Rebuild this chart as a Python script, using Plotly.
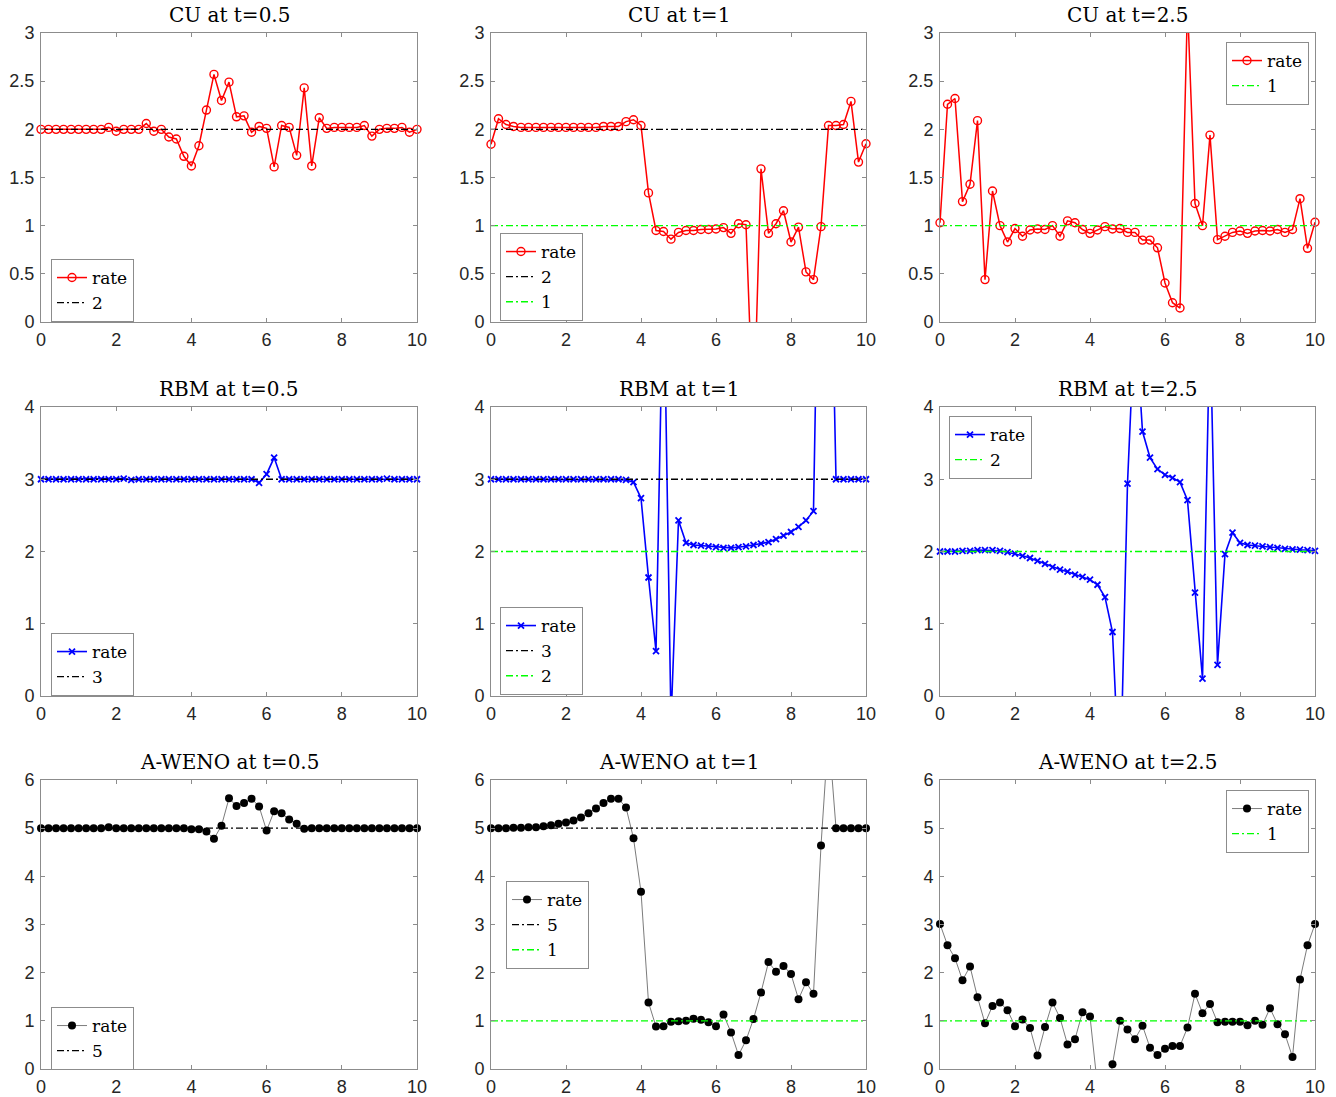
import plotly.graph_objects as go

# ---------------- data ----------------
X = [0.0, 0.2, 0.4, 0.6, 0.8, 1.0, 1.2, 1.4, 1.6, 1.8,
     2.0, 2.2, 2.4, 2.6, 2.8, 3.0, 3.2, 3.4, 3.6, 3.8,
     4.0, 4.2, 4.4, 4.6, 4.8, 5.0, 5.2, 5.4, 5.6, 5.8,
     6.0, 6.2, 6.4, 6.6, 6.8, 7.0, 7.2, 7.4, 7.6, 7.8,
     8.0, 8.2, 8.4, 8.6, 8.8, 9.0, 9.2, 9.4, 9.6, 9.8,
     10.0]

CU_05 = [2.00, 2.00, 2.00, 2.00, 2.00, 2.00, 2.00, 2.00, 2.00, 2.02,
         1.98, 2.00, 2.00, 2.00, 2.06, 1.98, 2.00, 1.92, 1.90, 1.72,
         1.62, 1.83, 2.20, 2.57, 2.30, 2.49, 2.13, 2.14, 1.97, 2.03,
         2.01, 1.61, 2.04, 2.02, 1.73, 2.43, 1.62, 2.12, 2.01, 2.02,
         2.02, 2.02, 2.02, 2.04, 1.93, 2.00, 2.01, 2.01, 2.02, 1.97,
         2.00]
CU_1 = [1.845, 2.11, 2.05, 2.03, 2.02, 2.02, 2.02, 2.02, 2.02, 2.02,
        2.02, 2.02, 2.02, 2.02, 2.02, 2.03, 2.03, 2.03, 2.08, 2.10,
        2.04, 1.34, 0.95, 0.94, 0.86, 0.93, 0.95, 0.95, 0.96, 0.96,
        0.965, 0.98, 0.92, 1.02, 1.01, -1.1, 1.59, 0.92, 1.02, 1.155,
        0.83, 0.985, 0.52, 0.44, 0.99, 2.04, 2.04, 2.05, 2.29, 1.66,
        1.85]
CU_25 = [1.03, 2.26, 2.32, 1.25, 1.43, 2.09, 0.44, 1.36, 1.00, 0.83,
         0.97, 0.89, 0.955, 0.965, 0.96, 1.00, 0.89, 1.05, 1.03, 0.96,
         0.92, 0.955, 0.99, 0.965, 0.97, 0.93, 0.93, 0.85, 0.85, 0.77,
         0.405, 0.20, 0.145, 3.3, 1.23, 1.00, 1.94, 0.855, 0.89, 0.93,
         0.945, 0.92, 0.945, 0.95, 0.945, 0.96, 0.93, 0.96, 1.28, 0.765,
         1.035]

RBM_05 = [3.00, 3.00, 3.00, 3.00, 3.00, 3.00, 3.00, 3.00, 3.00, 3.00,
          3.00, 3.01, 2.99, 3.00, 3.00, 3.00, 3.00, 3.00, 3.00, 3.00,
          3.00, 3.00, 3.00, 3.00, 3.00, 3.00, 3.00, 3.00, 3.00, 2.95,
          3.07, 3.30, 3.00, 3.00, 3.00, 3.00, 3.00, 3.00, 3.00, 3.00,
          3.00, 3.00, 3.00, 3.00, 3.00, 3.00, 3.01, 3.00, 3.00, 3.00,
          3.00]
RBM_1 = [3.00, 3.00, 3.00, 3.00, 3.00, 3.00, 3.00, 3.00, 3.00, 3.00,
         3.00, 3.00, 3.00, 3.00, 3.00, 3.00, 3.00, 3.00, 2.99, 2.96,
         2.74, 1.64, 0.62, 6.0, -0.35, 2.43, 2.12, 2.09, 2.08, 2.07,
         2.06, 2.05, 2.05, 2.06, 2.07, 2.09, 2.11, 2.13, 2.17, 2.22,
         2.27, 2.34, 2.43, 2.56, 8.5, 8.0, 3.00, 3.00, 3.00, 3.00,
         3.00]
RBM_25 = [2.00, 2.00, 2.00, 2.01, 2.01, 2.02, 2.02, 2.02, 2.01, 1.99,
          1.97, 1.94, 1.91, 1.87, 1.83, 1.785, 1.75, 1.72, 1.68, 1.65,
          1.61, 1.54, 1.37, 0.886, -1.4, 2.94, 5.3, 3.66, 3.30, 3.14,
          3.06, 3.02, 2.96, 2.71, 1.43, 0.24, 5.2, 0.43, 1.965, 2.26,
          2.12, 2.09, 2.08, 2.07, 2.06, 2.05, 2.035, 2.03, 2.025, 2.02,
          2.01]

AW_05 = [5.00, 5.00, 5.00, 5.00, 5.00, 5.00, 5.00, 5.00, 5.00, 5.02,
         5.00, 5.00, 5.00, 5.00, 5.00, 5.00, 5.00, 5.00, 5.00, 5.00,
         4.98, 4.98, 4.93, 4.78, 5.05, 5.62, 5.46, 5.52, 5.61, 5.45,
         4.95, 5.35, 5.31, 5.18, 5.09, 4.99, 5.00, 5.00, 5.00, 5.00,
         5.00, 5.00, 5.00, 5.00, 5.00, 5.00, 5.00, 5.00, 5.00, 5.00,
         5.00]
AW_1 = [5.00, 5.00, 5.00, 5.01, 5.01, 5.02, 5.02, 5.04, 5.06, 5.09,
        5.12, 5.16, 5.22, 5.31, 5.41, 5.52, 5.61, 5.61, 5.43, 4.79,
        3.68, 1.38, 0.88, 0.89, 0.98, 0.99, 1.00, 1.045, 1.02, 0.97,
        0.89, 1.13, 0.76, 0.29, 0.595, 1.04, 1.59, 2.22, 2.02, 2.14,
        1.97, 1.45, 1.80, 1.56, 4.64, 7.0, 5.00, 5.00, 5.00, 5.00,
        5.00]
AW_25 = [3.01, 2.57, 2.30, 1.84, 2.13, 1.49, 0.95, 1.31, 1.38, 1.22,
         0.89, 1.03, 0.85, 0.28, 0.87, 1.38, 1.06, 0.51, 0.62, 1.18,
         1.09, -0.36, -1.0, 0.10, 1.00, 0.82, 0.62, 0.90, 0.44, 0.29,
         0.42, 0.48, 0.48, 0.86, 1.56, 1.16, 1.35, 0.97, 0.98, 0.98,
         0.98, 0.91, 1.00, 0.92, 1.26, 0.93, 0.72, 0.25, 1.86, 2.57,
         3.01]

TITLES = ["CU at t=0.5", "CU at t=1", "CU at t=2.5",
          "RBM at t=0.5", "RBM at t=1", "RBM at t=2.5",
          "A-WENO at t=0.5", "A-WENO at t=1", "A-WENO at t=2.5"]
SERIES = [CU_05, CU_1, CU_25, RBM_05, RBM_1, RBM_25, AW_05, AW_1, AW_25]
# reference rate lines per panel: (value, label, colour key)
REFS = [[(2, "2", "k")], [(2, "2", "k"), (1, "1", "g")], [(1, "1", "g")],
        [(3, "3", "k")], [(3, "3", "k"), (2, "2", "g")], [(2, "2", "g")],
        [(5, "5", "k")], [(5, "5", "k"), (1, "1", "g")], [(1, "1", "g")]]
YMAX = [3, 4, 6]
YDTICK = [0.5, 1, 1]
XTICKS = [0, 2, 4, 6, 8, 10]

for s in SERIES:
    assert len(s) == len(X)

# ---------------- layout geometry ----------------
W, H = 1336, 1097
COLS = [(41, 417), (491, 866), (940, 1315)]
ROWS = [(33, 322), (407, 696), (780, 1069)]
LEG_POS = [(51, 259), (500, 233), (1226, 42),
           (51, 633), (500, 607), (949, 416),
           (51, 1007), (506, 881), (1226, 790)]

RATE_STYLE = [
    dict(line=dict(color="#ff0000", width=1.5),
         marker=dict(symbol="circle-open", size=8, color="#ff0000",
                     line=dict(color="#ff0000", width=1.4))),
    dict(line=dict(color="#0000ff", width=1.6),
         marker=dict(symbol="x-thin", size=6, color="#0000ff",
                     line=dict(color="#0000ff", width=1.8))),
    dict(line=dict(color="#222222", width=0.6),
         marker=dict(symbol="circle", size=8, color="#000000",
                     line=dict(width=0))),
]
REF_COL = {"k": "#000000", "g": "#00ff00"}
DASHDOT = "7px,3px,2px,3px"

AX_COL = "#8c8c8c"
TICK_FONT = dict(family="Liberation Sans, Arial, sans-serif", size=18, color="#262626")
TITLE_FONT = dict(family="DejaVu Serif, serif", size=20, color="#000000")
LEG_FONT = dict(family="DejaVu Serif, serif", size=17, color="#000000")

fig = go.Figure()
layout = dict(template="none", width=W, height=H,
              margin=dict(l=0, r=0, t=0, b=0, pad=0, autoexpand=False),
              paper_bgcolor="white", plot_bgcolor="white", showlegend=True)
annotations = []

for i in range(9):
    r, c = divmod(i, 3)
    n = i + 1
    xa = "x" if n == 1 else f"x{n}"
    ya = "y" if n == 1 else f"y{n}"
    leg = "legend" if n == 1 else f"legend{n}"
    fig.add_trace(go.Scatter(x=X, y=SERIES[i], mode="lines+markers", name="rate",
                             xaxis=xa, yaxis=ya, legend=leg, cliponaxis=False,
                             **RATE_STYLE[r]))
    for val, lab, ck in REFS[i]:
        fig.add_trace(go.Scatter(x=[X[0], X[-1]], y=[val, val], mode="lines", name=lab,
                                 xaxis=xa, yaxis=ya, legend=leg,
                                 line=dict(color=REF_COL[ck], width=1.3, dash=DASHDOT)))
    x0, x1 = COLS[c]
    y0, y1 = ROWS[r]
    common = dict(showgrid=False, zeroline=False, showline=True, linecolor=AX_COL,
                  linewidth=1, mirror="ticks", ticks="inside", ticklen=4,
                  tickcolor=AX_COL, tickwidth=1, tickfont=TICK_FONT, automargin=False)
    layout["xaxis" if n == 1 else f"xaxis{n}"] = dict(
        domain=[x0 / W, x1 / W], range=[0, 10], tickvals=XTICKS,
        anchor=ya, ticklabelstandoff=1, **common)
    layout["yaxis" if n == 1 else f"yaxis{n}"] = dict(
        domain=[1 - y1 / H, 1 - y0 / H], range=[0, YMAX[r]], dtick=YDTICK[r], tick0=0,
        anchor=xa, ticklabelstandoff=2, **common)
    lx, ly = LEG_POS[i]
    layout[leg] = dict(x=lx / W, y=1 - ly / H, xanchor="left", yanchor="top",
                       bgcolor="white", bordercolor="#8c8c8c", borderwidth=1,
                       font=LEG_FONT, itemwidth=30, tracegroupgap=0)
    annotations.append(dict(text=TITLES[i], x=(x0 + x1) / 2 / W,
                            y=1 - (y0 - 18) / H, xref="paper", yref="paper",
                            xanchor="center", yanchor="middle", showarrow=False,
                            font=TITLE_FONT))

layout["annotations"] = annotations
fig.update_layout(**layout)
fig.write_html("out.html")
